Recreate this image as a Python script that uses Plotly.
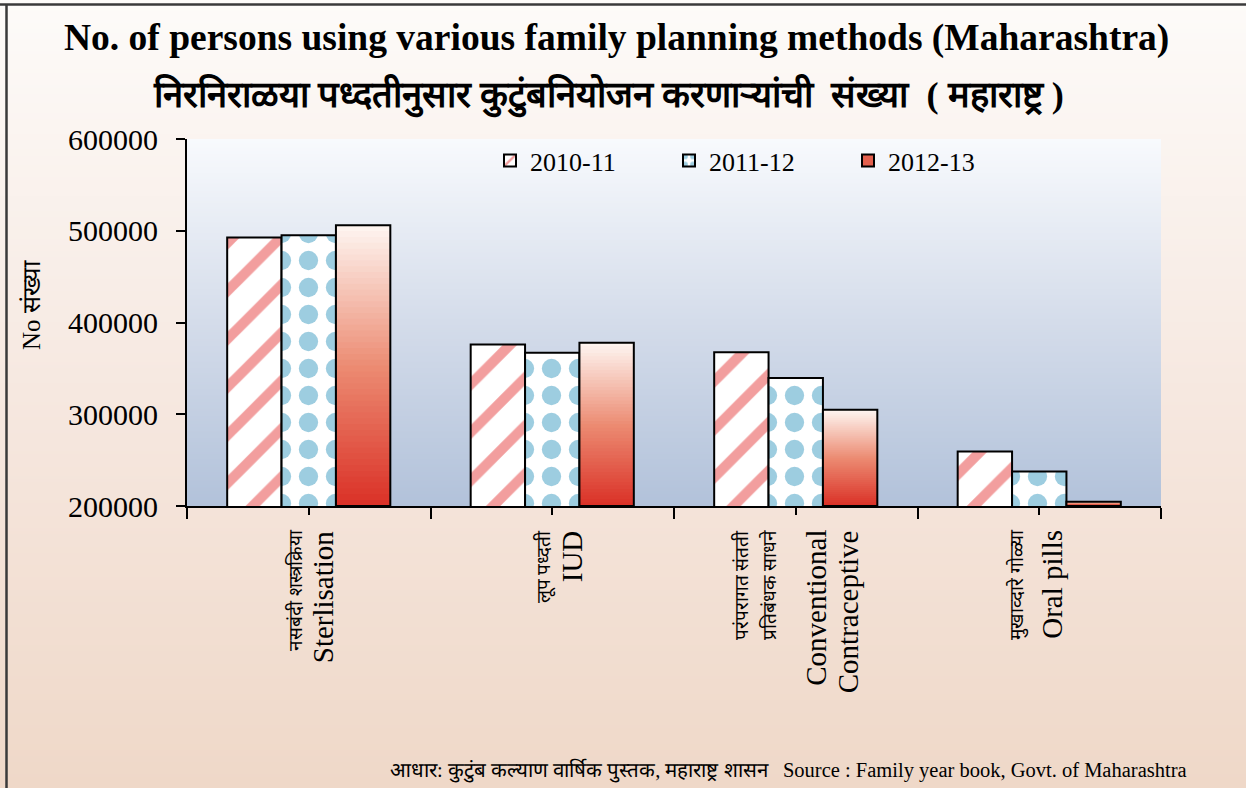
import base64
import struct
import zlib

import plotly.graph_objects as go

# ---------------- data ----------------
categories_en = ["Sterlisation", "IUD", "Conventional<br>Contraceptive", "Oral pills"]
categories_mr = ["नसबंदी शस्त्रक्रिया", "लूप पध्दती", "परंपरागत संतती<br>प्रतिबंधक साधने", "मुखाव्दारे गोळ्या"]
series_names = ["2010-11", "2011-12", "2012-13"]
values_2010_11 = [492600, 376000, 367500, 259300]
values_2011_12 = [495000, 367000, 339600, 237500]
values_2012_13 = [506000, 378000, 305000, 204700]
y_ticks = [200000, 300000, 400000, 500000, 600000]

title_en = "No. of persons using various family planning methods (Maharashtra)"
title_mr = "निरनिराळया पध्दतीनुसार कुटुंबनियोजन करणाऱ्यांची  संख्या  ( महाराष्ट्र )"
y_title = "No संख्या"
source_text = "आधार: कुटुंब कल्याण वार्षिक पुस्तक, महाराष्ट्र शासन   Source : Family year book, Govt. of Maharashtra"

# ---------------- geometry helpers ----------------
W, H = 1246, 788
PL, PR, PT, PB = 187, 1161, 139, 506
PW, PH = PR - PL, PB - PT


def px_x(p):
    return (p - PL) / PW


def px_y(p):
    return (PB - p) / PH


def png_vgrad(stops, n=256):
    rows = b""
    for i in range(n):
        f = i / (n - 1)
        for j in range(len(stops) - 1):
            f0, c0 = stops[j]
            f1, c1 = stops[j + 1]
            if f0 <= f <= f1:
                t = (f - f0) / (f1 - f0) if f1 > f0 else 0
                c = [round(c0[k] + (c1[k] - c0[k]) * t) for k in range(3)]
                break
        rows += b"\x00" + bytes(c)

    def chunk(tag, data):
        return struct.pack(">I", len(data)) + tag + data + struct.pack(">I", zlib.crc32(tag + data) & 0xFFFFFFFF)

    png = b"\x89PNG\r\n\x1a\n"
    png += chunk(b"IHDR", struct.pack(">IIBBBBB", 1, n, 8, 2, 0, 0, 0))
    png += chunk(b"IDAT", zlib.compress(rows))
    png += chunk(b"IEND", b"")
    return "data:image/png;base64," + base64.b64encode(png).decode()


paper_grad = png_vgrad([(0, (253, 251, 249)), (0.5, (246, 232, 224)), (1, (239, 216, 200))])
plot_grad = png_vgrad([(0, (248, 250, 253)), (0.5, (212, 220, 234)), (1, (178, 194, 218))])

SERIF = "Liberation Serif"
x_idx = list(range(len(categories_en)))
Y_MIN = y_ticks[0]

fig = go.Figure()

fig.add_trace(go.Bar(
    x=x_idx, y=values_2010_11, name=series_names[0], offsetgroup="a",
    marker=dict(color="white", line=dict(color="black", width=2),
                pattern=dict(shape="/", fgcolor="#f29e9e", bgcolor="white", fgopacity=1,
                             size=34, solidity=0.3)),
))
fig.add_trace(go.Bar(
    x=x_idx, y=values_2011_12, name=series_names[1], offsetgroup="b",
    marker=dict(color="white", line=dict(color="black", width=2),
                pattern=dict(shape=".", fgcolor="#9dcde0", bgcolor="white", fgopacity=1,
                             size=27, solidity=0.4)),
))
# legend entry for the gradient series
fig.add_trace(go.Bar(
    x=x_idx, y=[None] * len(x_idx), name=series_names[2], offsetgroup="c",
    marker=dict(color="#e4604e", line=dict(color="black", width=2)),
))

# gradient bars: stacked overlapping segments (white top -> red bottom)
stops = [(0.0, (218, 48, 38)), (0.5, (236, 140, 115)), (1.0, (254, 246, 242))]


def interp(f):
    for j in range(len(stops) - 1):
        f0, c0 = stops[j]
        f1, c1 = stops[j + 1]
        if f0 <= f <= f1:
            t = (f - f0) / (f1 - f0)
            return "rgb(%d,%d,%d)" % tuple(round(c0[k] + (c1[k] - c0[k]) * t) for k in range(3))
    return "rgb(%d,%d,%d)" % stops[-1][1]


N = 48
for k in range(N):
    frac = (N - k) / N
    tops = [Y_MIN + (v - Y_MIN) * frac for v in values_2012_13]
    fig.add_trace(go.Bar(
        x=x_idx, y=[t - Y_MIN for t in tops], base=[Y_MIN] * len(x_idx), offsetgroup="c",
        marker=dict(color=interp(frac - 0.5 / N), line=dict(width=0)),
        showlegend=False, hoverinfo="skip",
    ))
fig.add_trace(go.Bar(
    x=x_idx, y=[v - Y_MIN for v in values_2012_13], base=[Y_MIN] * len(x_idx), offsetgroup="c",
    marker=dict(color="rgba(0,0,0,0)", line=dict(color="black", width=2)),
    showlegend=False, hoverinfo="skip",
))

annotations = []
annotations.append(dict(text="<b>" + title_en + "</b>", xref="paper", yref="paper",
                        x=px_x(616), y=px_y(38), xanchor="center", yanchor="middle",
                        showarrow=False, font=dict(family=SERIF, size=37.5, color="black")))
annotations.append(dict(text="<b>" + title_mr + "</b>", xref="paper", yref="paper",
                        x=px_x(608), y=px_y(95), xanchor="center", yanchor="middle",
                        showarrow=False, font=dict(family=SERIF, size=36.3, color="black")))
annotations.append(dict(text=y_title, xref="paper", yref="paper", x=px_x(31), y=px_y(305),
                        xanchor="center", yanchor="middle", textangle=-90, showarrow=False,
                        font=dict(family=SERIF, size=25, color="black")))
annotations.append(dict(text=source_text, xref="paper", yref="paper", x=px_x(1189), y=px_y(770),
                        xanchor="right", yanchor="middle", showarrow=False,
                        font=dict(family=SERIF, size=20.5, color="black")))

# category labels (rotated), columns offsets in px relative to category centre
mr_offsets = [[-14], [-8], [-55, -27], [-23]]
en_offsets = [[14], [20], [20, 52], [12]]
for i in x_idx:
    mr_lines = categories_mr[i].split("<br>")
    en_lines = categories_en[i].split("<br>")
    for line, dx in zip(mr_lines, mr_offsets[i]):
        annotations.append(dict(text=line, xref="x", yref="paper", x=i, xshift=dx, y=px_y(527),
                                xanchor="center", yanchor="top", textangle=-90, showarrow=False,
                                font=dict(family=SERIF, size=19, color="black")))
    for line, dx in zip(en_lines, en_offsets[i]):
        annotations.append(dict(text=line, xref="x", yref="paper", x=i, xshift=dx, y=px_y(528),
                                xanchor="center", yanchor="top", textangle=-90, showarrow=False,
                                font=dict(family=SERIF, size=29, color="black")))

shapes = [
    dict(type="line", xref="paper", yref="paper", x0=px_x(0), x1=px_x(W), y0=px_y(4.5), y1=px_y(4.5),
         line=dict(color="#3a3a3a", width=2.5)),
    dict(type="line", xref="paper", yref="paper", x0=px_x(6.5), x1=px_x(6.5), y0=px_y(4), y1=px_y(H),
         line=dict(color="#3a3a3a", width=2.5)),
]

images = [
    dict(source=paper_grad, xref="paper", yref="paper", x=px_x(0), y=px_y(0),
         sizex=W / PW, sizey=H / PH, xanchor="left", yanchor="top", sizing="stretch", layer="below"),
    dict(source=plot_grad, xref="paper", yref="paper", x=0, y=1, sizex=1, sizey=1,
         xanchor="left", yanchor="top", sizing="stretch", layer="below"),
]

fig.update_layout(
    width=W, height=H, autosize=False,
    margin=dict(l=PL, r=W - PR, t=PT, b=H - PB, pad=0),
    paper_bgcolor="#f6e8e0", plot_bgcolor="rgba(0,0,0,0)",
    barmode="group", bargap=0.33, bargroupgap=0,
    font=dict(family=SERIF, color="black"),
    showlegend=True,
    legend=dict(orientation="h", x=px_x(490), y=px_y(137), xanchor="left", yanchor="top",
                bgcolor="rgba(0,0,0,0)", font=dict(family=SERIF, size=26, color="black"),
                entrywidth=134, entrywidthmode="pixels", traceorder="normal", itemclick=False),
    annotations=annotations, shapes=shapes, images=images,
    xaxis=dict(range=[-0.5, len(x_idx) - 0.5], tickmode="array", tickvals=x_idx,
               ticktext=[""] * len(x_idx), ticks="outside", ticklen=7, tickwidth=2, tickcolor="black",
               showline=True, linecolor="black", linewidth=2, showgrid=False, zeroline=False,
               minor=dict(tickmode="array", tickvals=[i - 0.5 for i in range(len(x_idx) + 1)],
                          ticks="outside", ticklen=11, tickwidth=2, tickcolor="black", showgrid=False)),
    yaxis=dict(range=[Y_MIN, y_ticks[-1]], tickmode="array", tickvals=y_ticks,
               ticktext=[str(v) for v in y_ticks], ticks="outside", ticklen=9, tickwidth=2,
               tickcolor="black", showline=True, linecolor="black", linewidth=2, showgrid=False,
               zeroline=False, ticklabelstandoff=12, tickfont=dict(family=SERIF, size=30, color="black")),
)

fig.write_html("out.html", config={"displayModeBar": False},
               post_script="document.body.style.margin='0';")
